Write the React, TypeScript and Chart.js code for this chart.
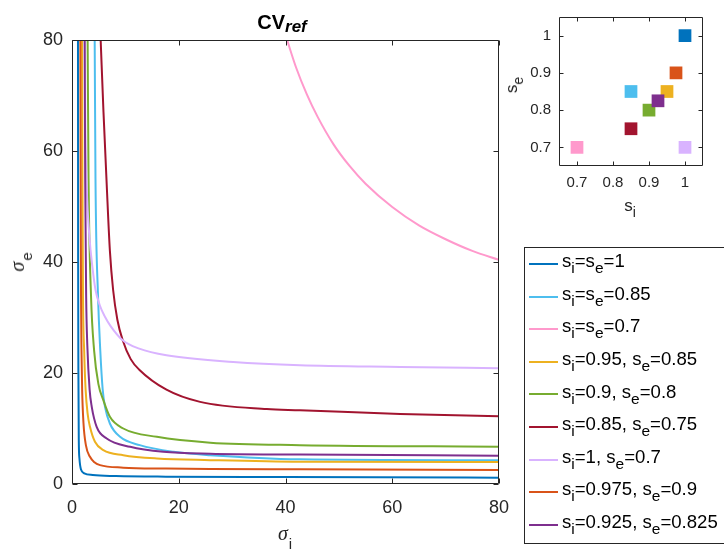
import React, { useEffect, useRef } from 'react';
import { Chart, registerables } from 'chart.js';

Chart.register(...registerables);

const SANS = '"Liberation Sans", Arial, Helvetica, sans-serif';
const SERIF = '"Liberation Serif", "Times New Roman", serif';
const INK = '#262626';

// ---- main plot: sigma_i (x) and sigma_e (y) ----
const sigI1 = [1.12, 1.15, 1.2, 1.27, 1.4, 1.69, 2.3, 3.9, 8.2, 17.6, 40, 80];
const sigE1 = [80, 40, 20, 8, 4.5, 2.6, 1.93, 1.62, 1.44, 1.32, 1.25, 1.14];

const sigI2 = [4.25, 4.4, 4.87, 5.3, 5.75, 6.18, 7.1, 9.0, 12.7, 19, 25.9, 42.7, 80];
const sigE2 = [80, 55, 34, 24, 17, 13.9, 10.9, 8.5, 7.0, 5.8, 5.2, 4.45, 4.27];

const sigI3 = [40.3, 42, 44, 46, 49, 52, 55, 60, 65, 70, 75, 80];
const sigE3 = [80, 75.0, 70.2, 66.2, 61.2, 57.3, 54.1, 49.9, 46.6, 44.1, 42.0, 40.4];

const sigI4 = [1.87, 1.95, 2.06, 2.28, 2.55, 2.95, 3.37, 4.3, 5.87, 9.6, 15.9, 25.9, 42.7, 80];
const sigE4 = [80, 55, 34, 24, 17, 12.5, 10.3, 7.6, 6.1, 5.2, 4.6, 4.3, 4.0, 3.96];

const sigI5 = [2.93, 3.1, 3.56, 4.15, 4.95, 5.87, 7.1, 9.6, 15.9, 25.9, 42.7, 80];
const sigE5 = [80, 55, 34, 24, 18, 15.1, 12.1, 10.0, 8.5, 7.45, 7.0, 6.73];

const sigI6 = [5.37, 5.9, 6.5, 7.1, 7.7, 8.5, 9.5, 11, 12.6, 17.7, 24, 36.5, 42.7, 61.5, 80];
const sigE6 = [80, 67, 54, 42, 35, 29.6, 25.9, 22.5, 20.6, 17.0, 14.8, 13.5, 13.3, 12.6, 12.2];

const sigI7 = [2.4, 2.5, 2.75, 3.25, 3.87, 4.4, 5.2, 6.2, 7.2, 9.5, 12.6, 17.7, 30.2, 42.7, 61.5, 80];
const sigE7 = [80, 65, 53.7, 44.7, 38.7, 35, 32.2, 30.1, 28.5, 25.9, 24.4, 23.2, 22.0, 21.4, 21.1, 20.85];

const sigI8 = [1.56, 1.62, 1.69, 1.78, 1.9, 2.15, 2.6, 3.37, 4.2, 5.25, 9.6, 17.6, 25.9, 42.7, 80];
const sigE8 = [80, 55, 34, 24, 17, 11, 7, 4.9, 3.9, 3.4, 2.95, 2.78, 2.7, 2.64, 2.52];

const sigI9 = [2.37, 2.47, 2.65, 2.87, 3.3, 3.7, 4.62, 6.5, 10.9, 17.1, 25.9, 42.7, 80];
const sigE9 = [80, 55, 34, 25, 17, 13.9, 10.3, 8.2, 6.7, 5.8, 5.45, 5.3, 5.1];

// ---- series meta ----
const seriesLabels = [
  's_i=s_e=1',
  's_i=s_e=0.85',
  's_i=s_e=0.7',
  's_i=0.95, s_e=0.85',
  's_i=0.9, s_e=0.8',
  's_i=0.85, s_e=0.75',
  's_i=1, s_e=0.7',
  's_i=0.975, s_e=0.9',
  's_i=0.925, s_e=0.825',
];
const seriesColors = [
  '#0072BD', '#4DBEEE', '#FF99CC', '#EDB120', '#77AC30',
  '#A2142F', '#D9B3FF', '#D95319', '#7E2F8E',
];
const sigIs = [sigI1, sigI2, sigI3, sigI4, sigI5, sigI6, sigI7, sigI8, sigI9];
const sigEs = [sigE1, sigE2, sigE3, sigE4, sigE5, sigE6, sigE7, sigE8, sigE9];

// ---- inset: (s_i, s_e) pairs ----
const insetSi = [1, 0.85, 0.7, 0.95, 0.9, 0.85, 1, 0.975, 0.925];
const insetSe = [1, 0.85, 0.7, 0.85, 0.8, 0.75, 0.7, 0.9, 0.825];

// ---- tick labels ----
const mainTicks = [0, 20, 40, 60, 80];
const insetTicks = [0.7, 0.8, 0.9, 1];

function makeBoxPlugin(len: number) {
  return {
    id: 'matlabBox',
    afterDraw(chart: any) {
      const { ctx, chartArea: a, scales } = chart;
      ctx.save();
      ctx.strokeStyle = INK;
      ctx.lineWidth = 1;
      const l = Math.round(a.left) + 0.5;
      const t = Math.round(a.top) + 0.5;
      const r = Math.round(a.right) - 0.5;
      const b = Math.round(a.bottom) - 0.5;
      ctx.beginPath();
      ctx.rect(l, t, r - l, b - t);
      for (const tk of scales.x.ticks) {
        const px = Math.round(scales.x.getPixelForValue(tk.value)) + 0.5;
        ctx.moveTo(px, b); ctx.lineTo(px, b - len);
        ctx.moveTo(px, t); ctx.lineTo(px, t + len);
      }
      for (const tk of scales.y.ticks) {
        const py = Math.round(scales.y.getPixelForValue(tk.value)) + 0.5;
        ctx.moveTo(l, py); ctx.lineTo(l + len, py);
        ctx.moveTo(r, py); ctx.lineTo(r - len, py);
      }
      ctx.stroke();
      ctx.restore();
    },
  };
}

function tex(label: string, subSize: number, dy: number) {
  const parts = label.split(/_(.)/);
  return parts.map((p, i) =>
    i % 2 === 1 ? (
      <span key={i} style={{ fontSize: subSize, position: 'relative', top: dy }}>{p}</span>
    ) : (
      <React.Fragment key={i}>{p}</React.Fragment>
    )
  );
}

export default function App() {
  const mainRef = useRef<HTMLCanvasElement>(null);
  const insetRef = useRef<HTMLCanvasElement>(null);

  useEffect(() => {
    const n = seriesLabels.length;
    const main = new Chart(mainRef.current as HTMLCanvasElement, {
      type: 'line',
      data: {
        datasets: seriesLabels.map((lab, i) => ({
          label: lab,
          data: sigIs[i].map((x, j) => ({ x, y: sigEs[i][j] })),
          borderColor: seriesColors[i],
          backgroundColor: seriesColors[i],
          borderWidth: 2,
          pointRadius: 0,
          fill: false,
          cubicInterpolationMode: 'monotone',
          clip: 0,
          order: n - 1 - i,
        })),
      },
      options: {
        animation: false,
        responsive: false,
        events: [],
        layout: { padding: { left: 0, top: 40, right: 225, bottom: 0 } },
        plugins: { legend: { display: false }, tooltip: { enabled: false }, title: { display: false } },
        scales: {
          x: {
            type: 'linear',
            min: 0,
            max: 80,
            grid: { display: false, drawTicks: false },
            border: { display: false },
            afterBuildTicks: (s: any) => { s.ticks = mainTicks.map((v) => ({ value: v })); },
            afterFit: (s: any) => { s.height = 72; },
            ticks: {
              font: { family: SANS, size: 18 },
              color: INK,
              padding: 13,
              maxRotation: 0,
              autoSkip: false,
              callback: (v: any) => String(v),
            },
          },
          y: {
            type: 'linear',
            min: 0,
            max: 80,
            grid: { display: false, drawTicks: false },
            border: { display: false },
            afterBuildTicks: (s: any) => { s.ticks = mainTicks.map((v) => ({ value: v })); },
            afterFit: (s: any) => { s.width = 72; },
            ticks: {
              font: { family: SANS, size: 18 },
              color: INK,
              padding: 9,
              autoSkip: false,
              callback: (v: any) => String(v),
            },
          },
        },
      } as any,
      plugins: [makeBoxPlugin(5)],
    });

    const inset = new Chart(insetRef.current as HTMLCanvasElement, {
      type: 'scatter',
      data: {
        datasets: [
          {
            label: 'sensitivities',
            data: insetSi.map((x, j) => ({ x, y: insetSe[j] })),
            backgroundColor: seriesColors,
            borderWidth: 0,
            pointStyle: 'rect',
            pointRadius: 9,
            pointBorderWidth: 0,
            clip: false,
          },
        ],
      },
      options: {
        animation: false,
        responsive: false,
        events: [],
        layout: { padding: { left: 0, top: 12, right: 21, bottom: 350 } },
        plugins: { legend: { display: false }, tooltip: { enabled: false } },
        scales: {
          x: {
            type: 'linear',
            min: 0.65,
            max: 1.05,
            grid: { display: false, drawTicks: false },
            border: { display: false },
            afterBuildTicks: (s: any) => { s.ticks = insetTicks.map((v) => ({ value: v })); },
            afterFit: (s: any) => { s.height = 40; },
            ticks: {
              font: { family: SANS, size: 15 },
              color: INK,
              padding: 8,
              maxRotation: 0,
              autoSkip: false,
              callback: (v: any) => String(v),
            },
          },
          y: {
            type: 'linear',
            min: 0.65,
            max: 1.05,
            grid: { display: false, drawTicks: false },
            border: { display: false },
            afterBuildTicks: (s: any) => { s.ticks = insetTicks.map((v) => ({ value: v })); },
            afterFit: (s: any) => { s.width = 559; },
            ticks: {
              font: { family: SANS, size: 15 },
              color: INK,
              padding: 8,
              autoSkip: false,
              callback: (v: any) => String(v),
            },
          },
        },
      } as any,
      plugins: [makeBoxPlugin(4)],
    });

    return () => {
      main.destroy();
      inset.destroy();
    };
  }, []);

  const abs: React.CSSProperties = { position: 'absolute', whiteSpace: 'pre', color: INK, lineHeight: 1 };
  const rowY = (k: number) => 264 + 32.6 * k;

  return (
    <div
      style={{
        position: 'fixed', left: 0, top: 0, width: 724, height: 556,
        overflow: 'hidden', background: '#fff', fontFamily: SANS,
      }}
    >
      <canvas ref={mainRef} width={724} height={556} style={{ position: 'absolute', left: 0, top: 0 }} />
      <canvas ref={insetRef} width={724} height={556} style={{ position: 'absolute', left: 0, top: 0 }} />

      {/* title */}
      <span
        style={{
          ...abs, left: 282, top: 28.5 - 0.8465 * 20, transform: 'translateX(-50%)',
          fontFamily: SANS, fontWeight: 'bold', fontSize: 20, color: '#000',
        }}
      >
        CV<span style={{ fontStyle: 'italic', fontSize: 17, position: 'relative', top: 3.5 }}>ref</span>
      </span>

      {/* main x title */}
      <span
        style={{
          ...abs, left: 285, top: 540 - 0.8375 * 20, transform: 'translateX(-50%)',
          fontFamily: SERIF, fontStyle: 'italic', fontSize: 20,
        }}
      >
        σ<span style={{ fontFamily: SANS, fontStyle: 'normal', fontSize: 15, position: 'relative', top: 9, marginLeft: 1 }}>i</span>
      </span>

      {/* main y title */}
      <span
        style={{
          ...abs, left: 23.3 - 0.8375 * 20, top: 262, transformOrigin: '0 0',
          transform: 'rotate(-90deg) translateX(-50%)',
          fontFamily: SERIF, fontStyle: 'italic', fontSize: 20,
        }}
      >
        σ<span style={{ fontFamily: SANS, fontStyle: 'normal', fontSize: 15, position: 'relative', top: 8, marginLeft: 1 }}>e</span>
      </span>

      {/* inset x title */}
      <span
        style={{
          ...abs, left: 630, top: 211.7 - 0.8465 * 17, transform: 'translateX(-50%)',
          fontFamily: SANS, fontSize: 17,
        }}
      >
        {tex('s_i', 14, 6)}
      </span>

      {/* inset y title */}
      <span
        style={{
          ...abs, left: 517 - 0.8465 * 17, top: 85, transformOrigin: '0 0',
          transform: 'rotate(-90deg) translateX(-50%)',
          fontFamily: SANS, fontSize: 17,
        }}
      >
        {tex('s_e', 14, 6)}
      </span>

      {/* legend */}
      <div
        style={{
          position: 'absolute', left: 524, top: 247, width: 220, height: 297,
          boxSizing: 'border-box', border: `1px solid ${INK}`, background: '#fff',
        }}
      >
        {seriesLabels.map((lab, k) => (
          <React.Fragment key={lab}>
            <div
              style={{
                position: 'absolute', left: 4, top: rowY(k) - 248 - 1, width: 29, height: 2,
                background: seriesColors[k],
              }}
            />
            <span
              style={{
                ...abs, left: 37, top: rowY(k) + 4 - 248 - 0.8465 * 18.6,
                fontFamily: SANS, fontSize: 18.6, color: '#000',
              }}
            >
              {tex(lab, 15.5, 6)}
            </span>
          </React.Fragment>
        ))}
      </div>
    </div>
  );
}
